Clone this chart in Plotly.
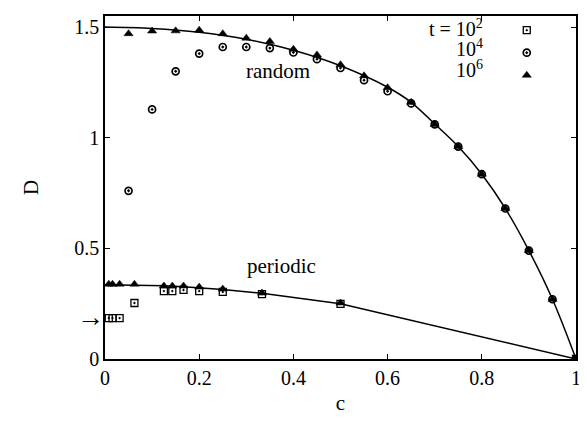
import plotly.graph_objects as go

# ---- data ----
# random (upper) branch
rand_c = [0.05, 0.10, 0.15, 0.20, 0.25, 0.30, 0.35, 0.40, 0.45, 0.50,
          0.55, 0.60, 0.65, 0.70, 0.75, 0.80, 0.85, 0.90, 0.95, 1.00]
rand_t4 = [0.76, 1.128, 1.30, 1.38, 1.41, 1.41, 1.405, 1.385, 1.355, 1.315,
           1.26, 1.21, 1.155, 1.06, 0.96, 0.835, 0.68, 0.49, 0.27, 0.0]
rand_t6 = [1.47, 1.482, 1.483, 1.486, 1.47, 1.45, 1.435, 1.40, 1.374, 1.33,
           1.28, 1.226, 1.16, 1.06, 0.96, 0.835, 0.68, 0.49, 0.27, 0.0]
rand_curve_c = [0.0, 0.1, 0.2, 0.3, 0.4, 0.5, 0.6, 0.65, 0.7, 0.75, 0.8, 0.85, 0.9, 0.95, 1.0]
rand_curve_D = [1.5, 1.494, 1.477, 1.445, 1.395, 1.325, 1.228, 1.16, 1.062, 0.96, 0.835, 0.68, 0.49, 0.27, 0.0]

# periodic (lower) branch
per_c = [0.008, 0.016, 0.031, 0.0625, 0.125, 0.1429, 0.1667, 0.2, 0.25, 0.3333, 0.5, 1.0]
per_t2 = [0.185, 0.185, 0.185, 0.253, 0.307, 0.307, 0.312, 0.307, 0.303, 0.293, 0.249, 0.0]
per_t6 = [0.338, 0.338, 0.338, 0.338, 0.33, 0.33, 0.33, 0.325, 0.316, 0.298, 0.253, 0.0]
per_curve_c = [0.0, 0.0625, 0.125, 0.1667, 0.2, 0.25, 0.3333, 0.5, 1.0]
per_curve_D = [0.336, 0.335, 0.331, 0.327, 0.322, 0.314, 0.297, 0.25, 0.0]

arrow_D = 0.185
x_ticks = [0, 0.2, 0.4, 0.6, 0.8, 1]
x_ticklabels = ["0", "0.2", "0.4", "0.6", "0.8", "1"]
y_ticks = [0, 0.5, 1, 1.5]
y_ticklabels = ["0", "0.5", "1", "1.5"]
legend_labels = ["t = 10<sup>2</sup>", "10<sup>4</sup>", "10<sup>6</sup>"]

FONT = "Liberation Serif, Times New Roman, DejaVu Serif, serif"
fig = go.Figure()

line_style = dict(color="black", width=1.5)
fig.add_trace(go.Scatter(x=rand_curve_c, y=rand_curve_D, mode="lines",
                         line=dict(**line_style, shape="spline"), showlegend=False))
fig.add_trace(go.Scatter(x=per_curve_c, y=per_curve_D, mode="lines",
                         line=line_style, showlegend=False))

sq = dict(symbol="square-open-dot", size=7, color="black", line=dict(width=1.3, color="black"))
ci = dict(symbol="circle-open-dot", size=7, color="black", line=dict(width=1.7, color="#222"))
tr = dict(symbol="triangle-up", size=8, color="black", line=dict(width=0.5, color="black"))

fig.add_trace(go.Scatter(x=per_c, y=per_t2, mode="markers", marker=sq,
                         name=" ", legendgroup="a", showlegend=True))
fig.add_trace(go.Scatter(x=rand_c, y=rand_t4, mode="markers", marker=ci,
                         name=" ", legendgroup="b", showlegend=True))
fig.add_trace(go.Scatter(x=rand_c, y=rand_t6, mode="markers", marker=tr,
                         name=" ", legendgroup="c", showlegend=True))
fig.add_trace(go.Scatter(x=per_c, y=per_t6, mode="markers", marker=tr,
                         showlegend=False))

ann = []
ann.append(dict(text="random", x=0.368, y=1.30, xref="x", yref="y", showarrow=False,
                font=dict(family=FONT, size=21, color="black")))
ann.append(dict(text="periodic", x=0.375, y=0.42, xref="x", yref="y", showarrow=False,
                font=dict(family=FONT, size=21, color="black")))
ann.append(dict(text="→", x=0, y=arrow_D, xref="paper", yref="y", xanchor="right",
                xshift=1, yshift=1, showarrow=False,
                font=dict(family=FONT, size=27, color="black")))
for i, lab in enumerate(legend_labels):
    ann.append(dict(text=lab, x=0.807, y=0.966 - i * 0.060, xref="paper", yref="paper",
                    xanchor="right", yanchor="middle", showarrow=False,
                    font=dict(family=FONT, size=20, color="black")))

axis_common = dict(showline=True, linecolor="black", linewidth=1.5, mirror="ticks",
                   ticks="inside", ticklen=5, tickwidth=1.2, tickcolor="black",
                   showgrid=False, zeroline=False,
                   tickfont=dict(family=FONT, size=20, color="black"))

fig.update_layout(
    width=579, height=414,
    margin=dict(l=97, r=7, t=6, b=63),
    plot_bgcolor="white", paper_bgcolor="white",
    font=dict(family=FONT, color="black"),
    xaxis=dict(range=[0, 1], tickvals=x_ticks, ticktext=x_ticklabels,
               title=dict(text="c", font=dict(family=FONT, size=21), standoff=8),
               **axis_common),
    yaxis=dict(range=[0, 1.55], tickvals=y_ticks, ticktext=y_ticklabels,
               title=dict(text="D", font=dict(family=FONT, size=21), standoff=30),
               **axis_common),
    legend=dict(x=0.853, y=1.006, xanchor="left", yanchor="top",
                bgcolor="rgba(0,0,0,0)", font=dict(family=FONT, size=15),
                tracegroupgap=0, itemwidth=30),
    annotations=ann,
)

fig.write_html("out.html")
